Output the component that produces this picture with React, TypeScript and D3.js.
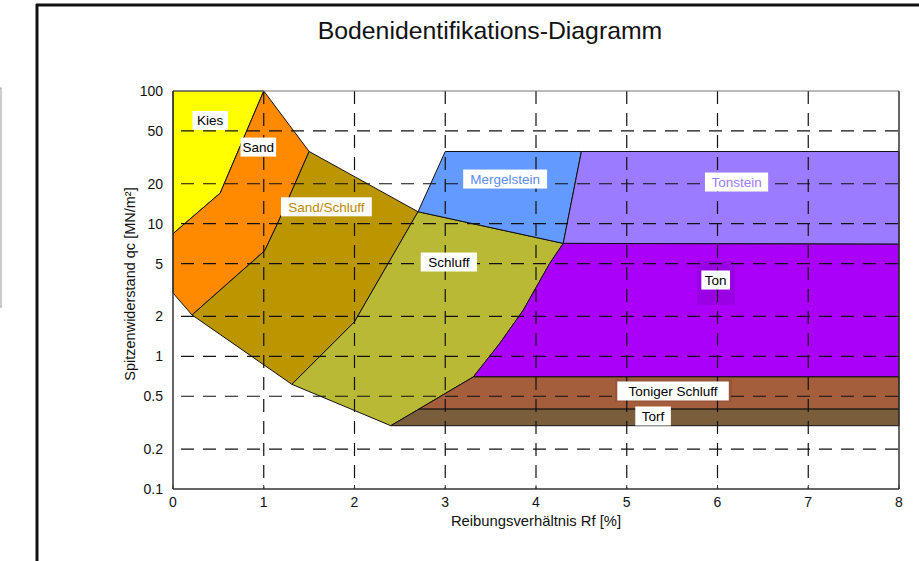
import React from "react";
import * as d3 from "d3";

const width = 919;
const height = 561;
const left = 173;
const right = 899;
const top = 91;
const bottom = 489;

// soil zones, points as [Rf %, qc MN/m²]
const kies = [[0, 100], [1, 100], [0.52, 17], [0, 8.4]];
const sand = [[1, 100], [1.5, 35], [1.16, 10.3], [1.01, 6.25], [0.21, 2.05], [0, 3], [0, 8.4], [0.52, 17]];
const sandSchluff = [[1.5, 35], [2.7, 12.3], [2.0, 1.82], [1.31, 0.615], [0.21, 2.05], [1.01, 6.25], [1.16, 10.3]];
const schluff = [[2.7, 12.3], [4.3, 7.1], [4.15, 5], [3.86, 2.23], [3.6, 1.25], [3.31, 0.7], [2.4, 0.3], [1.31, 0.615], [2.0, 1.82]];
const mergelstein = [[2.7, 12.3], [3.0, 35], [4.5, 35], [4.3, 7.1]];
const tonstein = [[4.5, 35], [8, 35], [8, 7], [4.3, 7.1]];
const ton = [[4.3, 7.1], [8, 7], [8, 0.7], [3.31, 0.7], [3.6, 1.25], [3.86, 2.23], [4.15, 5]];
const tonigerSchluff = [[2.71, 0.4], [3.31, 0.7], [8, 0.7], [8, 0.4]];
const torf = [[2.4, 0.3], [2.71, 0.4], [8, 0.4], [8, 0.3]];

const zones = [
  { pts: kies, fill: "#ffff00" },
  { pts: sand, fill: "#ff8a00" },
  { pts: sandSchluff, fill: "#bb9600" },
  { pts: schluff, fill: "#b9b935" },
  { pts: mergelstein, fill: "#639aff" },
  { pts: tonstein, fill: "#9b7bff" },
  { pts: ton, fill: "#aa00fa" },
  { pts: tonigerSchluff, fill: "#a45e3c" },
  { pts: torf, fill: "#7a5d3b" },
];

// label text, anchor [Rf, qc], text colour
const labels = [
  { text: "Kies", at: [0.41, 60], color: "#000" },
  { text: "Sand", at: [0.94, 37.8], color: "#000" },
  { text: "Sand/Schluff", at: [1.69, 13.4], color: "#b88a00" },
  { text: "Schluff", at: [3.04, 5.14], color: "#000" },
  { text: "Mergelstein", at: [3.66, 21.7], color: "#5a8cf0" },
  { text: "Tonstein", at: [6.21, 20.6], color: "#9b7bff" },
  { text: "Ton", at: [5.98, 3.76], color: "#000" },
  { text: "Toniger Schluff", at: [5.51, 0.548], color: "#000" },
  { text: "Torf", at: [5.29, 0.355], color: "#000" },
];

const xTicks = [0, 1, 2, 3, 4, 5, 6, 7, 8];
const yTicks = [100, 50, 20, 10, 5, 2, 1, 0.5, 0.2, 0.1];
const yGrid = [50, 20, 10, 5, 2, 1, 0.5, 0.2];
const xGrid = [1, 2, 3, 4, 5, 6, 7];

const font = "Arial, 'Liberation Sans', sans-serif";

const App = () => {
  const xScale = d3.scaleLinear().domain([0, 8]).range([left, right]);
  const yScale = d3.scaleLog().domain([0.1, 100]).range([bottom, top]);
  const line = d3
    .line<number[]>()
    .x(d => xScale(d[0]))
    .y(d => yScale(d[1]));

  const charW = 6.9;

  return (
    <svg
      width={width}
      height={height}
      style={{ position: "absolute", left: 0, top: 0, background: "#fff" }}
      fontFamily={font}
    >
      {/* cut-off neighbour box and outer frame */}
      <rect x={-50} y={88} width={51} height={219} fill="none" stroke="#999" strokeWidth={1} />
      <line x1={37} x2={37} y1={4} y2={height} stroke="#111" strokeWidth={3} />
      <line x1={36} x2={width} y1={5} y2={5} stroke="#111" strokeWidth={3} />

      <text x={490} y={39} textAnchor="middle" fontSize={24.8} fill="#111">
        Bodenidentifikations-Diagramm
      </text>

      {zones.map((z, i) => (
        <path key={i} d={line(z.pts) + "Z"} fill={z.fill} stroke="#111" strokeWidth={1} />
      ))}

      {/* darker shadows behind some labels */}
      <rect x={697} y={261} width={38} height={44} fill="#9a00e4" />
      <rect x={615} y={379} width={117} height={23} fill="#98553a" />

      {yGrid.map((v, i) => (
        <line
          key={"h" + i}
          x1={left}
          x2={right}
          y1={yScale(v)}
          y2={yScale(v)}
          stroke="#111"
          strokeWidth={1.2}
          strokeDasharray="13 9"
          strokeDashoffset={14}
        />
      ))}
      {xGrid.map((v, i) => (
        <line
          key={"v" + i}
          x1={xScale(v)}
          x2={xScale(v)}
          y1={top}
          y2={bottom}
          stroke="#111"
          strokeWidth={1.2}
          strokeDasharray="13 9"
        />
      ))}

      {labels.map((l, i) => {
        const w = l.text.length * charW + 8;
        const cx = xScale(l.at[0]);
        const cy = yScale(l.at[1]);
        return (
          <g key={"l" + i}>
            <rect x={cx - w / 2} y={cy - 9.5} width={w} height={19} fill="#fff" />
            <text x={cx} y={cy + 4.8} textAnchor="middle" fontSize={13.5} fill={l.color}>
              {l.text}
            </text>
          </g>
        );
      })}

      {/* frame of the plot */}
      <line x1={left} x2={right} y1={top} y2={top} stroke="#777" strokeWidth={1.2} />
      <line x1={right} x2={right} y1={top} y2={bottom} stroke="#333" strokeWidth={1.5} />
      <line x1={left} x2={left} y1={top} y2={bottom} stroke="#333" strokeWidth={1.5} />
      <line x1={left} x2={right} y1={bottom} y2={bottom} stroke="#333" strokeWidth={1.5} />

      {xTicks.map((v, i) => (
        <g key={"xt" + i}>
          <line x1={xScale(v)} x2={xScale(v)} y1={bottom} y2={bottom - 4} stroke="#333" />
          <text x={xScale(v)} y={507} textAnchor="middle" fontSize={14} fill="#111">
            {v}
          </text>
        </g>
      ))}
      {yTicks.map((v, i) => (
        <text key={"yt" + i} x={163} y={yScale(v) + 5} textAnchor="end" fontSize={14} fill="#111">
          {v}
        </text>
      ))}

      <text x={536} y={526} textAnchor="middle" fontSize={14.8} fill="#111">
        Reibungsverhältnis Rf [%]
      </text>
      <text
        transform="translate(135,284) rotate(-90)"
        textAnchor="middle"
        fontSize={14.5}
        fill="#111"
      >
        Spitzenwiderstand qc [MN/m²]
      </text>
    </svg>
  );
};

export default App;
